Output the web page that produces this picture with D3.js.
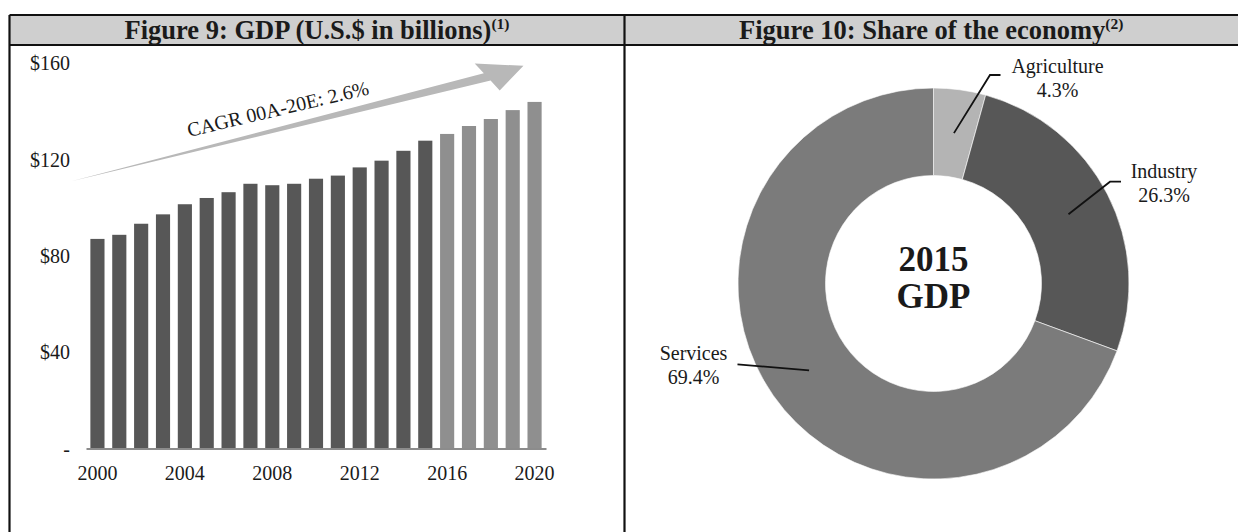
<!DOCTYPE html>
<html>
<head>
<meta charset="utf-8">
<script src="https://cdn.jsdelivr.net/npm/d3@7"></script>
<style>
  body { margin: 0; background: #fff; }
  text { font-family: "Liberation Serif", "Times New Roman", serif; fill: #1a1a1a; }
</style>
</head>
<body>
<div id="chart"></div>
<script>
// GDP bars (figure 9)
const years = ["2000","2001","2002","2003","2004","2005","2006","2007","2008","2009","2010",
               "2011","2012","2013","2014","2015","2016","2017","2018","2019","2020"];
const gdpValues = [87.1, 88.8, 93.4, 97.3, 101.5, 104.1, 106.5, 110.0, 109.4, 110.0, 112.1,
                   113.4, 116.8, 119.6, 123.7, 127.9, 130.7, 134.0, 136.9, 140.6, 144.0];
const firstEstimateYear = "2016";
const yTicks = [0, 40, 80, 120, 160];
const xTickYears = ["2000","2004","2008","2012","2016","2020"];
const cagrLabel = "CAGR 00A-20E: 2.6%";
const cagrArrow = { fromYear: "2000", fromValue: 111, toYear: "2020", toValue: 159 };

// share of the economy (figure 10)
const sectors = ["Agriculture", "Industry", "Services"];
const shareValues = [4.3, 26.3, 69.4];
const centerLabel = ["2015", "GDP"];

const W = 1238, H = 532;
const tableLeft = 9.5, tableTop = 15, headerBottom = 45, divider = 624.5;

const svg = d3.select("#chart").append("svg")
  .attr("width", W)
  .attr("height", H);

svg.append("rect").attr("width", W).attr("height", H).attr("fill", "#fff");

// ---- table frame + headers
svg.append("rect")
  .attr("x", tableLeft).attr("y", tableTop)
  .attr("width", W - tableLeft + 5).attr("height", headerBottom - tableTop)
  .attr("fill", "#cfcfcf");

const frame = svg.append("g").attr("stroke", "#111").attr("stroke-width", 2.2);
frame.append("line").attr("x1", tableLeft).attr("x2", W).attr("y1", tableTop).attr("y2", tableTop);
frame.append("line").attr("x1", tableLeft).attr("x2", W).attr("y1", headerBottom).attr("y2", headerBottom);
frame.append("line").attr("x1", tableLeft).attr("x2", tableLeft).attr("y1", tableTop).attr("y2", H);
frame.append("line").attr("x1", divider).attr("x2", divider).attr("y1", tableTop).attr("y2", H);

function header(cx, main, note) {
  const t = svg.append("text")
    .attr("x", cx).attr("y", 38.5)
    .attr("text-anchor", "middle")
    .attr("font-size", 26.5).attr("font-weight", "bold");
  t.append("tspan").text(main);
  t.append("tspan").attr("font-size", 15.5).attr("dy", -10).text(note);
}
header((tableLeft + divider) / 2, "Figure 9: GDP (U.S.$ in billions)", "(1)");
header((divider + W) / 2, "Figure 10: Share of the economy", "(2)");

// ---- bar chart
const x = d3.scaleBand().domain(years).range([86, 546]).paddingInner(0.353).paddingOuter(0.2);
const y = d3.scaleLinear().domain([0, 160]).range([448.6, 63.4]);

const bars = svg.append("g");
bars.selectAll("rect")
  .data(years.map((yr, i) => ({ year: yr, value: gdpValues[i] })))
  .enter().append("rect")
  .attr("x", d => x(d.year))
  .attr("y", d => y(d.value))
  .attr("width", x.bandwidth())
  .attr("height", d => y(0) - y(d.value))
  .attr("fill", d => (+d.year >= +firstEstimateYear) ? "#8f8f8f" : "#575757");

const yAxis = svg.append("g")
  .attr("transform", "translate(80,0)")
  .call(d3.axisLeft(y).tickValues(yTicks).tickSize(0).tickPadding(10)
    .tickFormat(d => d === 0 ? "-" : "$" + d));
yAxis.select(".domain").remove();
yAxis.selectAll("text").attr("font-size", 20).attr("font-family", "Liberation Serif").attr("fill", "#1a1a1a");

const xAxis = svg.append("g")
  .attr("transform", "translate(0," + y(0) + ")")
  .call(d3.axisBottom(x).tickValues(xTickYears).tickSize(0).tickSizeOuter(0).tickPadding(17));
xAxis.select(".domain").attr("stroke", "#8c8c8c").attr("stroke-width", 2);
xAxis.selectAll("text").attr("font-size", 20).attr("font-family", "Liberation Serif").attr("fill", "#1a1a1a");

// CAGR arrow: tapered shaft + skewed head
const tail = [x(cagrArrow.fromYear) - 19, y(cagrArrow.fromValue)];
const tip = [x(cagrArrow.toYear) - 4, y(cagrArrow.toValue)];
const ux = tip[0] - tail[0], uy = tip[1] - tail[1];
const len = Math.hypot(ux, uy);
const u = [ux / len, uy / len];
const headMid = [tip[0] - 39 * u[0] + 1.5, tip[1] - 39 * u[1] + 1.5];
const headHalf = [12.5, 13.5];
const joinHalf = [headHalf[0] * 0.27, headHalf[1] * 0.27];
const arrowPts = [
  tail,
  [headMid[0] + joinHalf[0], headMid[1] + joinHalf[1]],
  [headMid[0] + headHalf[0], headMid[1] + headHalf[1]],
  tip,
  [headMid[0] - headHalf[0], headMid[1] - headHalf[1]],
  [headMid[0] - joinHalf[0], headMid[1] - joinHalf[1]]
];
svg.append("path")
  .attr("d", d3.line()(arrowPts) + "Z")
  .attr("fill", "#b8b8b8");

const angle = Math.atan2(uy, ux) * 180 / Math.PI + 1;
svg.append("text")
  .attr("transform", "translate(189,137) rotate(" + angle + ")")
  .attr("font-size", 20)
  .text(cagrLabel);

// ---- donut
const cx = 933.5, cy = 283.5, R = 195.5, r0 = 108;
const pie = d3.pie().sort(null).value(d => d.value);
const arc = d3.arc().innerRadius(r0).outerRadius(R);
const slices = pie(sectors.map((s, i) => ({ name: s, value: shareValues[i] })));
const sliceColor = d3.scaleOrdinal().domain(sectors).range(["#b4b4b4", "#575757", "#7b7b7b"]);

const donut = svg.append("g").attr("transform", "translate(" + cx + "," + cy + ")");
donut.selectAll("path")
  .data(slices)
  .enter().append("path")
  .attr("d", arc)
  .attr("fill", d => sliceColor(d.data.name))
  .attr("stroke", "#fff").attr("stroke-width", 0.6);

donut.append("text")
  .attr("text-anchor", "middle")
  .attr("font-size", 35).attr("font-weight", "bold")
  .selectAll("tspan")
  .data(centerLabel)
  .enter().append("tspan")
  .attr("x", 0)
  .attr("y", (d, i) => -13 + i * 37)
  .text(d => d);

// labels placed relative to donut centre; elbow = where leader meets the text
const labelPos = {
  Agriculture: { tx: 124, ty: -217.5, elbow: [56.5, -208.5], end: [67, -208.5] },
  Industry:    { tx: 230.5, ty: -112.5, elbow: [176.5, -101.8], end: [187.5, -101.8] },
  Services:    { tx: -240, ty: 69.5, elbow: [-196, 80.8], end: [-196, 80.8] }
};

slices.forEach(s => {
  const p = labelPos[s.data.name];
  const c = arc.centroid(s);
  donut.append("path")
    .attr("d", d3.line()([c, p.elbow, p.end]))
    .attr("fill", "none").attr("stroke", "#111").attr("stroke-width", 1.8);
  const t = donut.append("text")
    .attr("text-anchor", "middle")
    .attr("font-size", 20);
  t.append("tspan").attr("x", p.tx).attr("y", p.ty + 7).text(s.data.name);
  t.append("tspan").attr("x", p.tx).attr("y", p.ty + 31).text(s.data.value.toFixed(1) + "%");
});
</script>
</body>
</html>
